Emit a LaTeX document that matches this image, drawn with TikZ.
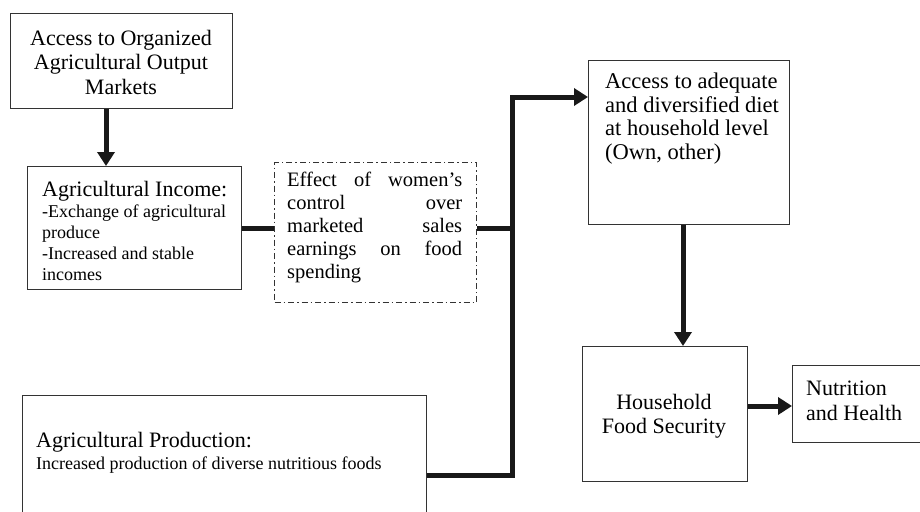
\documentclass[tikz,border=0pt]{standalone}
\usepackage{fontspec}
\setmainfont{Liberation Serif}
\usetikzlibrary{arrows.meta,calc}
\newcommand{\jline}[1]{\makebox[175pt][s]{#1}}
\begin{document}
\begin{tikzpicture}[x=1pt,y=-1pt,
  box/.style={draw=black!80,line width=1.3pt,rectangle,inner sep=0pt},
  dashbox/.style={draw=black!80,line width=1.1pt,rectangle,inner sep=0pt,
    dash pattern=on 6pt off 3pt on 1.5pt off 3pt},
  txt/.style={inner sep=0pt,align=left},
  link/.style={line width=5pt,draw=black!90},
  arr/.style={link,-{Triangle[length=14pt,width=17pt]}},
  big/.style={font=\fontsize{22}{24.5}\selectfont},
  small/.style={font=\fontsize{18}{21}\selectfont}]
\useasboundingbox (0,0) rectangle (920,511);
\fill[white] (0,0) rectangle (920,511);
% boxes
\node[box,anchor=north west,minimum width=222pt,minimum height=95pt] (b1) at (10,13) {};
\node[box,anchor=north west,minimum width=214pt,minimum height=123pt] (b2) at (27,166) {};
\node[dashbox,anchor=north west,minimum width=202pt,minimum height=140pt] (d) at (274,162) {};
\node[box,anchor=north west,minimum width=201pt,minimum height=164pt] (b3) at (588,60) {};
\node[box,anchor=north west,minimum width=404pt,minimum height=125pt] (b4) at (22,395) {};
\node[box,anchor=north west,minimum width=165pt,minimum height=135pt] (b5) at (582,346) {};
\node[box,anchor=north west,minimum width=140pt,minimum height=77pt] (b6) at (792,365) {};
% texts
\node[txt,big,align=center] (t1) at (121,62) {Access to Organized\\Agricultural Output\\Markets};
\node[txt,small,anchor=north west] (t2) at (42,181)
  {{\fontsize{22}{24}\selectfont Agricultural Income:}\\[0pt]
   -Exchange of agricultural\\produce\\-Increased and stable\\incomes};
\node[txt,anchor=north west,font=\fontsize{20.5}{23}\selectfont] (t3) at (287,172)
  {\jline{Effect of women’s}\\\jline{control over}\\\jline{marketed sales}\\\jline{earnings on food}\\spending};
\node[txt,anchor=north west,font=\fontsize{22.5}{23.5}\selectfont] (t4) at (605,73)
  {Access to adequate\\and diversified diet\\at household level\\(Own, other)};
\node[txt,small,anchor=north west] (t5) at (36,432)
  {{\fontsize{22}{24}\selectfont Agricultural Production:}\\[1pt]
   Increased production of diverse nutritious foods};
\node[txt,big,align=center] (t6) at (664,416) {Household\\Food Security};
\node[txt,big,anchor=west] (t7) at (806,401) {Nutrition\\and Health};
% connectors
\coordinate (j1) at (512,228);
\coordinate (j2) at (512,475);
\coordinate (j3) at (512,97);
\draw[arr] (b1.south -| 106,0) -- (b2.north -| 106,0);
\draw[link] (b2.east |- j1) -- (d.west |- j1);
\draw[link] (d.east |- j1) -- (j1);
\draw[arr,line join=miter] (b4.east |- j2) -- (j2) -- (j3) -- (b3.west |- j3);
\draw[arr] (b3.south -| 683,0) -- (b5.north -| 683,0);
\draw[arr] (b5.east |- 0,406) -- (b6.west |- 0,406);
\end{tikzpicture}
\end{document}
